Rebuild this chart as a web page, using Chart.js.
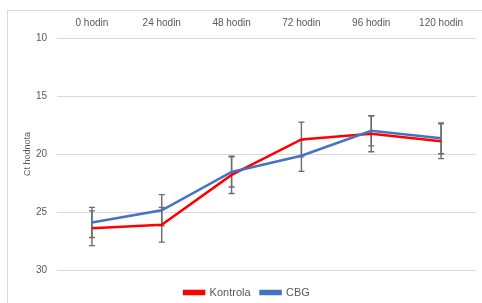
<!DOCTYPE html>
<html>
<head>
<meta charset="utf-8">
<script src="https://cdn.jsdelivr.net/npm/chart.js@4.4.0/dist/chart.umd.min.js"></script>
<style>
  html, body { margin: 0; padding: 0; background: #fff; }
  #wrap { position: relative; width: 482px; height: 303px; }
  #frame { position: absolute; left: 7px; top: 10px; width: 480px; height: 300px; border: 1px solid #d9d9d9; }
  canvas { position: absolute; left: 0; top: 0; }
</style>
</head>
<body>
<div id="wrap">
  <div id="frame"></div>
  <canvas id="myChart" width="482" height="303"></canvas>
</div>
<script>
const labels = ['0 hodin', '24 hodin', '48 hodin', '72 hodin', '96 hodin', '120 hodin'];
const kontrola = [26.4, 26.1, 21.8, 18.75, 18.25, 18.9];
const kontrolaErr = [1.5, 1.5, 1.6, 1.5, 1.55, 1.5];
const cbg = [25.9, 24.85, 21.55, 20.15, 18.0, 18.65];
const cbgErr = [1.3, 1.35, 1.3, 1.35, 1.3, 1.33];

const textColor = '#595959';

// error bars drawn through the y scale
const errorBars = {
  id: 'errorBars',
  beforeDatasetsDraw(chart) {
    const ctx = chart.ctx;
    const y = chart.scales.y;
    ctx.save();
    ctx.strokeStyle = '#6b6b6b';
    ctx.lineWidth = 1.4;
    chart.data.datasets.forEach((ds, i) => {
      const meta = chart.getDatasetMeta(i);
      meta.data.forEach((pt, j) => {
        const v = ds.data[j], e = ds.errors[j];
        const y1 = y.getPixelForValue(v - e);
        const y2 = y.getPixelForValue(v + e);
        ctx.beginPath();
        ctx.moveTo(pt.x, y1); ctx.lineTo(pt.x, y2);
        ctx.moveTo(pt.x - 3, y1); ctx.lineTo(pt.x + 3, y1);
        ctx.moveTo(pt.x - 3, y2); ctx.lineTo(pt.x + 3, y2);
        ctx.stroke();
      });
    });
    ctx.restore();
  }
};

// keep the legend low, under the plot
const legendSpot = {
  id: 'legendSpot',
  beforeInit(chart) {
    const fit = chart.legend.fit;
    chart.legend.fit = function () { fit.call(this); this.height = 33; };
  },
  afterLayout(chart) {
    chart.legend.top += 7;
    chart.legend.bottom += 7;
  }
};

const data = {
  labels: labels,
  datasets: [{
    label: 'Kontrola',
    data: kontrola,
    errors: kontrolaErr,
    borderColor: '#ff0000',
    backgroundColor: '#ff0000',
    borderWidth: 2.5,
    pointRadius: 0,
    tension: 0,
    order: 1
  }, {
    label: 'CBG',
    data: cbg,
    errors: cbgErr,
    borderColor: '#4472c4',
    backgroundColor: '#4472c4',
    borderWidth: 2.5,
    pointRadius: 0,
    tension: 0,
    order: 0
  }]
};

const config = {
  type: 'line',
  data: data,
  options: {
    responsive: false,
    animation: false,
    layout: { padding: { left: 18, right: 6, top: 0, bottom: 0 } },
    scales: {
      x: {
        position: 'top',
        offset: true,
        grid: { display: false, drawTicks: false },
        border: { display: false },
        ticks: { color: textColor, font: { family: 'Liberation Sans', size: 10 }, padding: 9, maxRotation: 0 },
        afterFit(s) { s.height = 38; }
      },
      y: {
        reverse: true,
        min: 10,
        max: 30,
        ticks: { stepSize: 5, color: textColor, font: { family: 'Liberation Sans', size: 10 }, padding: 10 },
        grid: { color: '#d9d9d9', drawTicks: false },
        border: { display: false },
        title: { display: true, text: 'Ct hodnota', color: textColor, font: { family: 'Liberation Sans', size: 9 }, padding: { top: 4, bottom: 0 } },
        afterFit(s) { s.width = 39; }
      }
    },
    plugins: {
      legend: {
        position: 'bottom',
        labels: {
          color: textColor,
          font: { family: 'Liberation Sans', size: 11 },
          boxWidth: 20,
          boxHeight: 3,
          padding: 10,
          sort: (a, b) => a.datasetIndex - b.datasetIndex
        }
      },
      tooltip: { enabled: false }
    }
  },
  plugins: [errorBars, legendSpot]
};

const myChart = new Chart(document.getElementById('myChart'), config);
</script>
</body>
</html>
